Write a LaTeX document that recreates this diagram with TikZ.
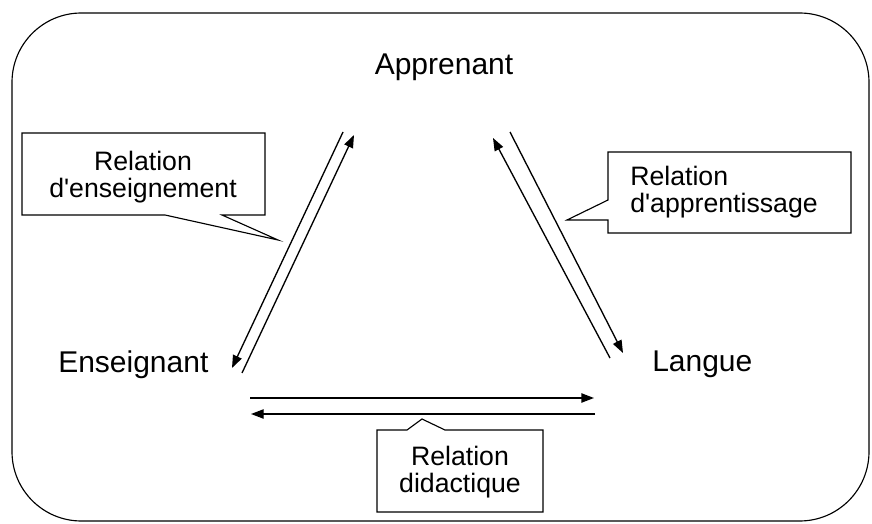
\documentclass[tikz,border=0pt]{standalone}
\usepackage{fontspec}
\setmainfont{Liberation Sans}
\usetikzlibrary{arrows.meta}

\begin{document}
\begin{tikzpicture}[x=0.75pt, y=-0.75pt,
    pole/.style={font=\fontsize{22.5}{27}\selectfont, inner sep=0pt},
    bulle/.style={draw, line width=0.85pt, line join=miter, fill=white},
    btext/.style={font=\fontsize{20}{20.5}\selectfont, inner sep=0pt, align=center},
    rel/.style={-{Triangle[length=9.5pt,width=7pt]}, line width=1pt},
]
  \useasboundingbox (0,0) rectangle (872,524);
  \draw[line width=0.85pt, rounded corners=52pt] (12,13) rectangle (869,521);

  \node[pole, anchor=base] (app) at (444,75) {Apprenant};
  \node[pole, anchor=base west] (ens) at (58,373) {Enseignant};
  \node[pole, anchor=base west] (lan) at (652,372) {Langue};

  \coordinate (ae1) at (343,132);  \coordinate (ea1) at (232,368);
  \coordinate (ea2) at (242,373);  \coordinate (ae2) at (354,135);
  \coordinate (la1) at (610,358);  \coordinate (al1) at (493,138);
  \coordinate (al2) at (510,132);  \coordinate (la2) at (623,353);
  \coordinate (el1) at (250,398);  \coordinate (le1) at (594,398);
  \coordinate (le2) at (595,414);  \coordinate (el2) at (251,414);

  \draw[rel] (ae1) -- (ea1);
  \draw[rel] (ea2) -- (ae2);
  \draw[rel] (la1) -- (al1);
  \draw[rel] (al2) -- (la2);
  \draw[rel] (el1) -- (le1);
  \draw[rel] (le2) -- (el2);

  \draw[bulle] (22,133) -- (265,133) -- (265,215) -- (222,215) -- (278,240)
    -- (165,215) -- (22,215) -- cycle;
  \draw[bulle] (608,152) -- (851,152) -- (851,233) -- (608,233) -- (608,220)
    -- (567,220) -- (608,200) -- cycle;
  \draw[bulle] (377,430) -- (407,430) -- (422,419) -- (445,430) -- (543,430)
    -- (543,512) -- (377,512) -- cycle;

  \node[btext] (rens) at (143,177) {Relation\\d\textquotesingle enseignement};
  \node[btext, align=left, anchor=west] (rapp) at (630,192) {Relation\\d\textquotesingle apprentissage};
  \node[btext] (rdid) at (460,472) {Relation\\didactique};
\end{tikzpicture}
\end{document}
